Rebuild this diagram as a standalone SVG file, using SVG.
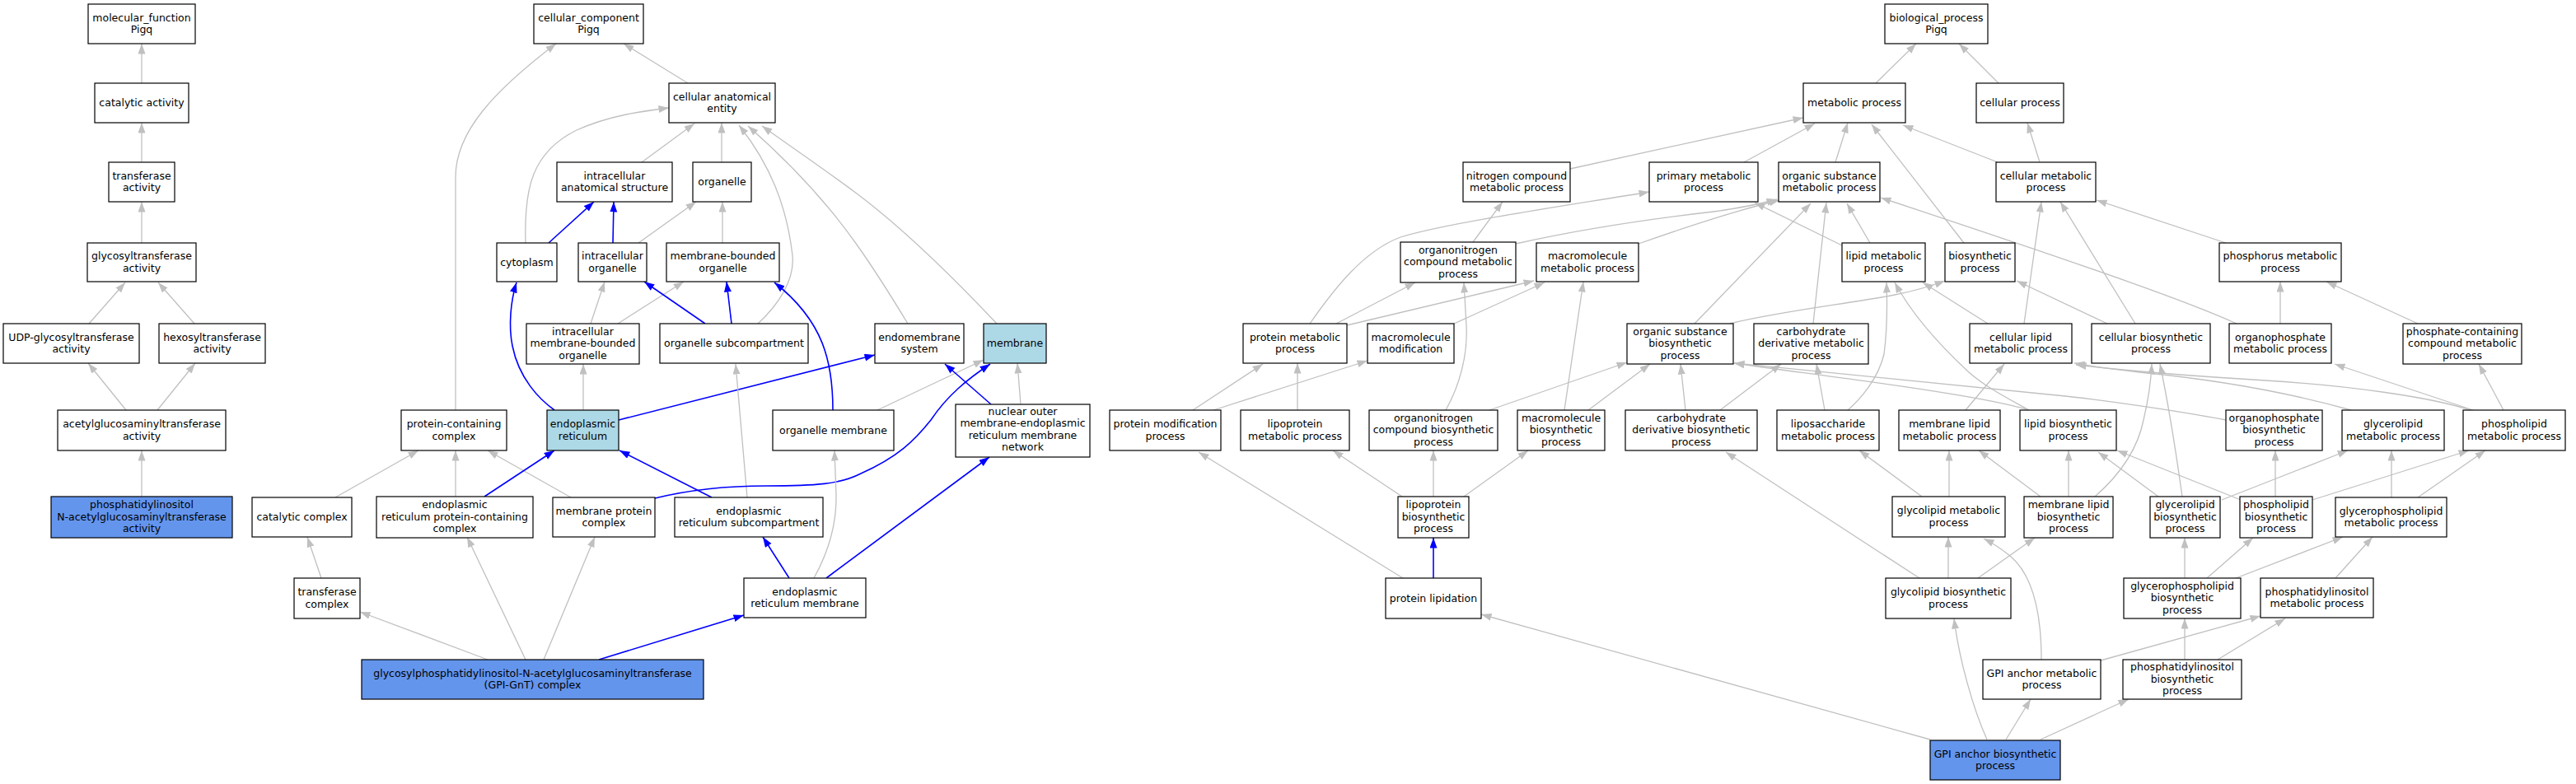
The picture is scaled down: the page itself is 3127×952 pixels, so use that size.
<svg xmlns="http://www.w3.org/2000/svg" width="3127" height="952" viewBox="0 0 3127 952">
<style>
.n rect{fill:#fff;stroke:#000;stroke-width:1.2}
.n.q rect{fill:#6495ed}
.n.h rect{fill:#add8e6}
.n text{font-family:"DejaVu Sans","Liberation Sans",sans-serif;font-size:12.5px;text-anchor:middle;fill:#000}
.g{fill:none;stroke:#c0c0c0;stroke-width:1.3;marker-end:url(#ag)}
.b{fill:none;stroke:#0000ff;stroke-width:1.6;marker-end:url(#ab)}
</style>
<defs>
<marker id="ag" markerWidth="13" markerHeight="10" refX="12.5" refY="4.5" orient="auto" markerUnits="userSpaceOnUse"><path d="M0,0 L12.5,4.5 L0,9 z" fill="#c0c0c0"/></marker>
<marker id="ab" markerWidth="13" markerHeight="10" refX="12.5" refY="4.5" orient="auto" markerUnits="userSpaceOnUse"><path d="M0,0 L12.5,4.5 L0,9 z" fill="#0000ff"/></marker>
</defs>
<rect width="3127" height="952" fill="#fff"/>
<g id="connectors">
<path class="g" d="M172,101 L172,53"/>
<path class="g" d="M172,197 L172,149"/>
<path class="g" d="M172,295 L172,245"/>
<path class="g" d="M108,393 L152,343"/>
<path class="g" d="M236,393 L192,343"/>
<path class="g" d="M153,498 L107,441"/>
<path class="g" d="M191,498 L237,441"/>
<path class="g" d="M172,603 L172,547"/>
<path class="g" d="M835,101 L757,53"/>
<path class="g" d="M553,498 L553,215 C553,160 600,110 675,53"/>
<path class="g" d="M779,197 L843,150"/>
<path class="g" d="M876,197 L876,149"/>
<path class="g" d="M638,295 C636,230 645,185 700,158 C740,140 780,135 812,131"/>
<path class="g" d="M775,295 L845,245"/>
<path class="b" d="M744,295 L745,245"/>
<path class="b" d="M666,295 L721,245"/>
<path class="g" d="M877,295 L877,245"/>
<path class="g" d="M920,393 C945,370 965,340 962,310 C955,250 935,200 897,152"/>
<path class="g" d="M717,393 L734,342"/>
<path class="g" d="M750,393 L830,342"/>
<path class="b" d="M856,393 L782,342"/>
<path class="b" d="M888,393 L882,342"/>
<path class="b" d="M1011,498 C1011,440 1000,390 940,343"/>
<path class="g" d="M1102,393 C1085,365 1060,325 1040,297 C1000,240 950,190 908,153"/>
<path class="g" d="M1210,393 C1160,340 1100,280 1040,235 C1000,205 960,178 925,153"/>
<path class="b" d="M673,498 C655,485 630,460 622,420 C617,395 620,365 627,343"/>
<path class="g" d="M708,498 L708,442"/>
<path class="b" d="M751,510 L1062,431"/>
<path class="g" d="M907,604 L893,442"/>
<path class="b" d="M864,604 L752,547"/>
<path class="g" d="M693,604 L592,547"/>
<path class="b" d="M795,605 C840,594 880,590 930,590 C990,590 1020,588 1045,575 C1090,555 1110,535 1130,510 C1150,480 1175,460 1202,442"/>
<path class="g" d="M553,603 L553,547"/>
<path class="b" d="M588,603 L673,547"/>
<path class="g" d="M1065,498 L1194,437"/>
<path class="b" d="M1203,491 L1147,442"/>
<path class="g" d="M1239,491 L1235,441"/>
<path class="g" d="M988,702 C1003,675 1016,640 1015,600 L1013,547"/>
<path class="b" d="M958,702 L926,652"/>
<path class="b" d="M1003,702 L1201,555"/>
<path class="g" d="M407,604 L508,547"/>
<path class="g" d="M390,702 L373,652"/>
<path class="g" d="M592,801 L437,743"/>
<path class="g" d="M638,801 L567,652"/>
<path class="g" d="M660,801 L722,652"/>
<path class="b" d="M727,801 L903,747"/>
<path class="g" d="M2277,101 L2326,53"/>
<path class="g" d="M2426,101 L2378,53"/>
<path class="g" d="M1906,205 L2189,143"/>
<path class="g" d="M2117,197 L2203,150"/>
<path class="g" d="M2228,197 L2243,149"/>
<path class="g" d="M2384,295 L2272,151"/>
<path class="g" d="M2425,197 L2310,152"/>
<path class="g" d="M2476,197 L2461,149"/>
<path class="g" d="M1788,294 L1824,245"/>
<path class="g" d="M1840,296 C1920,278 2010,265 2080,257 C2110,253 2135,248 2157,242"/>
<path class="g" d="M1989,296 C2040,278 2110,255 2160,243"/>
<path class="g" d="M2236,298 L2130,246"/>
<path class="g" d="M2270,295 L2242,247"/>
<path class="g" d="M1590,393 C1620,350 1655,305 1700,288 C1760,270 1900,250 2002,233"/>
<path class="g" d="M1622,393 L1718,343"/>
<path class="g" d="M1635,395 L1862,341"/>
<path class="g" d="M1765,393 L1875,343"/>
<path class="g" d="M1448,498 L1533,442"/>
<path class="g" d="M1473,498 L1660,438"/>
<path class="g" d="M1575,498 L1575,441"/>
<path class="g" d="M1703,702 L1455,549"/>
<path class="b" d="M1740,702 L1740,653"/>
<path class="g" d="M1702,603 L1618,547"/>
<path class="g" d="M1740,603 L1740,547"/>
<path class="g" d="M1777,603 L1855,547"/>
<path class="g" d="M2343,898 L1798,746"/>
<path class="g" d="M1755,498 C1772,468 1782,430 1780,395 C1779,375 1778,360 1777,343"/>
<path class="g" d="M1808,498 L1975,440"/>
<path class="g" d="M1899,498 L1922,342"/>
<path class="g" d="M1928,498 L2003,442"/>
<path class="g" d="M2046,498 L2040,442"/>
<path class="g" d="M2088,498 L2162,442"/>
<path class="g" d="M2057,393 L2198,247"/>
<path class="g" d="M2100,393 C2160,378 2250,368 2300,358 C2330,352 2345,347 2361,341"/>
<path class="g" d="M2201,393 L2217,246"/>
<path class="g" d="M2413,393 L2334,343"/>
<path class="g" d="M2457,393 L2478,245"/>
<path class="g" d="M2558,393 L2448,341"/>
<path class="g" d="M2592,393 L2501,245"/>
<path class="g" d="M2702,295 L2545,243"/>
<path class="g" d="M2715,393 C2660,368 2560,332 2283,240"/>
<path class="g" d="M2768,393 L2768,342"/>
<path class="g" d="M2935,393 L2824,342"/>
<path class="g" d="M2463,498 C2440,485 2410,470 2390,452 C2350,415 2320,380 2300,343"/>
<path class="g" d="M2463,498 C2400,478 2200,455 2105,441"/>
<path class="g" d="M2702,510 C2650,500 2550,485 2497,480 C2400,470 2250,455 2105,441"/>
<path class="g" d="M2215,498 L2205,442"/>
<path class="g" d="M2243,498 C2258,485 2280,460 2287,430 C2291,400 2291,370 2290,343"/>
<path class="g" d="M2386,498 L2433,442"/>
<path class="g" d="M2333,603 L2257,547"/>
<path class="g" d="M2366,603 L2366,547"/>
<path class="g" d="M2477,603 L2402,547"/>
<path class="g" d="M2511,603 L2511,547"/>
<path class="g" d="M2543,603 C2575,575 2595,545 2602,510 C2608,485 2611,465 2612,442"/>
<path class="g" d="M2620,603 L2547,549"/>
<path class="g" d="M2649,603 C2643,560 2632,490 2622,442"/>
<path class="g" d="M2697,607 L2850,547"/>
<path class="g" d="M2720,607 L2570,547"/>
<path class="g" d="M2762,603 L2762,547"/>
<path class="g" d="M2807,607 L2997,547"/>
<path class="g" d="M2903,604 L2903,547"/>
<path class="g" d="M2935,604 L3017,547"/>
<path class="g" d="M2854,498 C2790,480 2700,462 2597,452 C2560,448 2540,445 2518,441"/>
<path class="g" d="M2999,498 C2950,482 2850,468 2750,462 C2650,456 2580,450 2520,443"/>
<path class="g" d="M3002,498 L2834,442"/>
<path class="g" d="M3039,498 L3009,442"/>
<path class="g" d="M2652,702 L2652,653"/>
<path class="g" d="M2679,702 L2735,653"/>
<path class="g" d="M2714,702 L2844,652"/>
<path class="g" d="M2835,702 L2880,652"/>
<path class="g" d="M2652,801 L2652,751"/>
<path class="g" d="M2692,801 L2774,751"/>
<path class="g" d="M2550,802 L2744,748"/>
<path class="g" d="M2478,801 C2478,750 2470,700 2440,675 C2430,667 2420,660 2408,654"/>
<path class="g" d="M2330,702 L2095,549"/>
<path class="g" d="M2365,702 L2365,652"/>
<path class="g" d="M2401,702 L2470,653"/>
<path class="g" d="M2412,898 C2395,860 2378,800 2372,751"/>
<path class="g" d="M2435,898 L2465,849"/>
<path class="g" d="M2477,898 L2584,849"/>
</g>
<g id="n_mf" class="n"><rect x="107" y="5" width="130" height="48"/><text><tspan x="172" y="25.5">molecular_function</tspan><tspan x="172" y="40">Pigq</tspan></text></g>
<g id="n_cat" class="n"><rect x="115" y="101" width="114" height="48"/><text x="172" y="129">catalytic activity</text></g>
<g id="n_tra" class="n"><rect x="132" y="197" width="80" height="48"/><text><tspan x="172" y="217.5">transferase</tspan><tspan x="172" y="232">activity</tspan></text></g>
<g id="n_gly" class="n"><rect x="106" y="295" width="132" height="47"/><text><tspan x="172" y="315">glycosyltransferase</tspan><tspan x="172" y="329.5">activity</tspan></text></g>
<g id="n_udp" class="n"><rect x="4" y="393" width="165" height="48"/><text><tspan x="86.5" y="413.5">UDP-glycosyltransferase</tspan><tspan x="86.5" y="428">activity</tspan></text></g>
<g id="n_hex" class="n"><rect x="193" y="393" width="129" height="48"/><text><tspan x="257.5" y="413.5">hexosyltransferase</tspan><tspan x="257.5" y="428">activity</tspan></text></g>
<g id="n_acg" class="n"><rect x="70" y="498" width="204" height="49"/><text><tspan x="172" y="519">acetylglucosaminyltransferase</tspan><tspan x="172" y="533.5">activity</tspan></text></g>
<g id="n_pig" class="n q"><rect x="62" y="603" width="220" height="50"/><text><tspan x="172" y="617">phosphatidylinositol</tspan><tspan x="172" y="631.5">N-acetylglucosaminyltransferase</tspan><tspan x="172" y="646">activity</tspan></text></g>
<g id="n_cc" class="n"><rect x="648" y="5" width="133" height="48"/><text><tspan x="714.5" y="25.5">cellular_component</tspan><tspan x="714.5" y="40">Pigq</tspan></text></g>
<g id="n_cae" class="n"><rect x="812" y="101" width="129" height="48"/><text><tspan x="876.5" y="121.5">cellular anatomical</tspan><tspan x="876.5" y="136">entity</tspan></text></g>
<g id="n_ias" class="n"><rect x="676" y="197" width="140" height="48"/><text><tspan x="746" y="217.5">intracellular</tspan><tspan x="746" y="232">anatomical structure</tspan></text></g>
<g id="n_org" class="n"><rect x="841" y="197" width="71" height="48"/><text x="876.5" y="225">organelle</text></g>
<g id="n_cyt" class="n"><rect x="603" y="295" width="73" height="47"/><text x="639.5" y="322.5">cytoplasm</text></g>
<g id="n_io" class="n"><rect x="702" y="295" width="83" height="47"/><text><tspan x="743.5" y="315">intracellular</tspan><tspan x="743.5" y="329.5">organelle</tspan></text></g>
<g id="n_mbo" class="n"><rect x="809" y="295" width="137" height="47"/><text><tspan x="877.5" y="315">membrane-bounded</tspan><tspan x="877.5" y="329.5">organelle</tspan></text></g>
<g id="n_imbo" class="n"><rect x="639" y="393" width="137" height="49"/><text><tspan x="707.5" y="406.5">intracellular</tspan><tspan x="707.5" y="421">membrane-bounded</tspan><tspan x="707.5" y="435.5">organelle</tspan></text></g>
<g id="n_os" class="n"><rect x="801" y="393" width="180" height="48"/><text x="891" y="421">organelle subcompartment</text></g>
<g id="n_em" class="n"><rect x="1062" y="393" width="108" height="48"/><text><tspan x="1116" y="413.5">endomembrane</tspan><tspan x="1116" y="428">system</tspan></text></g>
<g id="n_mem" class="n h"><rect x="1194" y="393" width="76" height="48"/><text x="1232" y="421">membrane</text></g>
<g id="n_pcc" class="n"><rect x="487" y="498" width="128" height="49"/><text><tspan x="551" y="519">protein-containing</tspan><tspan x="551" y="533.5">complex</tspan></text></g>
<g id="n_er" class="n h"><rect x="664" y="498" width="87" height="49"/><text><tspan x="707.5" y="519">endoplasmic</tspan><tspan x="707.5" y="533.5">reticulum</tspan></text></g>
<g id="n_om" class="n"><rect x="938" y="498" width="147" height="49"/><text x="1011.5" y="526.5">organelle membrane</text></g>
<g id="n_nuc" class="n"><rect x="1160" y="491" width="163" height="64"/><text><tspan x="1241.5" y="503.5">nuclear outer</tspan><tspan x="1241.5" y="518">membrane-endoplasmic</tspan><tspan x="1241.5" y="532.5">reticulum membrane</tspan><tspan x="1241.5" y="547">network</tspan></text></g>
<g id="n_catc" class="n"><rect x="306" y="604" width="121" height="48"/><text x="366.5" y="632">catalytic complex</text></g>
<g id="n_erpcc" class="n"><rect x="457" y="603" width="190" height="50"/><text><tspan x="552" y="617">endoplasmic</tspan><tspan x="552" y="631.5">reticulum protein-containing</tspan><tspan x="552" y="646">complex</tspan></text></g>
<g id="n_mpc" class="n"><rect x="671" y="604" width="124" height="48"/><text><tspan x="733" y="624.5">membrane protein</tspan><tspan x="733" y="639">complex</tspan></text></g>
<g id="n_ers" class="n"><rect x="819" y="604" width="180" height="48"/><text><tspan x="909" y="624.5">endoplasmic</tspan><tspan x="909" y="639">reticulum subcompartment</tspan></text></g>
<g id="n_trc" class="n"><rect x="357" y="702" width="80" height="49"/><text><tspan x="397" y="723">transferase</tspan><tspan x="397" y="737.5">complex</tspan></text></g>
<g id="n_erm" class="n"><rect x="903" y="702" width="148" height="48"/><text><tspan x="977" y="722.5">endoplasmic</tspan><tspan x="977" y="737">reticulum membrane</tspan></text></g>
<g id="n_gnt" class="n q"><rect x="439" y="801" width="415" height="48"/><text><tspan x="646.5" y="821.5">glycosylphosphatidylinositol-N-acetylglucosaminyltransferase</tspan><tspan x="646.5" y="836">(GPI-GnT) complex</tspan></text></g>
<g id="n_bp" class="n"><rect x="2288" y="5" width="125" height="48"/><text><tspan x="2350.5" y="25.5">biological_process</tspan><tspan x="2350.5" y="40">Pigq</tspan></text></g>
<g id="n_met" class="n"><rect x="2189" y="101" width="124" height="48"/><text x="2251" y="129">metabolic process</text></g>
<g id="n_cp" class="n"><rect x="2399" y="101" width="106" height="48"/><text x="2452" y="129">cellular process</text></g>
<g id="n_ncm" class="n"><rect x="1776" y="197" width="130" height="48"/><text><tspan x="1841" y="217.5">nitrogen compound</tspan><tspan x="1841" y="232">metabolic process</tspan></text></g>
<g id="n_pm" class="n"><rect x="2002" y="197" width="132" height="48"/><text><tspan x="2068" y="217.5">primary metabolic</tspan><tspan x="2068" y="232">process</tspan></text></g>
<g id="n_osm" class="n"><rect x="2159" y="197" width="123" height="48"/><text><tspan x="2220.5" y="217.5">organic substance</tspan><tspan x="2220.5" y="232">metabolic process</tspan></text></g>
<g id="n_cm" class="n"><rect x="2423" y="197" width="121" height="48"/><text><tspan x="2483.5" y="217.5">cellular metabolic</tspan><tspan x="2483.5" y="232">process</tspan></text></g>
<g id="n_oncm" class="n"><rect x="1700" y="294" width="140" height="49"/><text><tspan x="1770" y="307.5">organonitrogen</tspan><tspan x="1770" y="322">compound metabolic</tspan><tspan x="1770" y="336.5">process</tspan></text></g>
<g id="n_mmp" class="n"><rect x="1865" y="295" width="124" height="47"/><text><tspan x="1927" y="315">macromolecule</tspan><tspan x="1927" y="329.5">metabolic process</tspan></text></g>
<g id="n_lmp" class="n"><rect x="2236" y="295" width="101" height="47"/><text><tspan x="2286.5" y="315">lipid metabolic</tspan><tspan x="2286.5" y="329.5">process</tspan></text></g>
<g id="n_bsp" class="n"><rect x="2361" y="295" width="85" height="47"/><text><tspan x="2403.5" y="315">biosynthetic</tspan><tspan x="2403.5" y="329.5">process</tspan></text></g>
<g id="n_phm" class="n"><rect x="2694" y="295" width="148" height="47"/><text><tspan x="2768" y="315">phosphorus metabolic</tspan><tspan x="2768" y="329.5">process</tspan></text></g>
<g id="n_prm" class="n"><rect x="1509" y="393" width="126" height="48"/><text><tspan x="1572" y="413.5">protein metabolic</tspan><tspan x="1572" y="428">process</tspan></text></g>
<g id="n_mmod" class="n"><rect x="1660" y="393" width="105" height="48"/><text><tspan x="1712.5" y="413.5">macromolecule</tspan><tspan x="1712.5" y="428">modification</tspan></text></g>
<g id="n_osb" class="n"><rect x="1975" y="393" width="129" height="49"/><text><tspan x="2039.5" y="406.5">organic substance</tspan><tspan x="2039.5" y="421">biosynthetic</tspan><tspan x="2039.5" y="435.5">process</tspan></text></g>
<g id="n_cdm" class="n"><rect x="2129" y="393" width="139" height="49"/><text><tspan x="2198.5" y="406.5">carbohydrate</tspan><tspan x="2198.5" y="421">derivative metabolic</tspan><tspan x="2198.5" y="435.5">process</tspan></text></g>
<g id="n_clm" class="n"><rect x="2391" y="393" width="124" height="48"/><text><tspan x="2453" y="413.5">cellular lipid</tspan><tspan x="2453" y="428">metabolic process</tspan></text></g>
<g id="n_cbp" class="n"><rect x="2539" y="393" width="144" height="48"/><text><tspan x="2611" y="413.5">cellular biosynthetic</tspan><tspan x="2611" y="428">process</tspan></text></g>
<g id="n_opm" class="n"><rect x="2706" y="393" width="124" height="48"/><text><tspan x="2768" y="413.5">organophosphate</tspan><tspan x="2768" y="428">metabolic process</tspan></text></g>
<g id="n_pcm" class="n"><rect x="2917" y="393" width="144" height="49"/><text><tspan x="2989" y="406.5">phosphate-containing</tspan><tspan x="2989" y="421">compound metabolic</tspan><tspan x="2989" y="435.5">process</tspan></text></g>
<g id="n_pmod" class="n"><rect x="1347" y="498" width="135" height="49"/><text><tspan x="1414.5" y="519">protein modification</tspan><tspan x="1414.5" y="533.5">process</tspan></text></g>
<g id="n_lpm" class="n"><rect x="1506" y="498" width="132" height="49"/><text><tspan x="1572" y="519">lipoprotein</tspan><tspan x="1572" y="533.5">metabolic process</tspan></text></g>
<g id="n_oncb" class="n"><rect x="1662" y="498" width="156" height="49"/><text><tspan x="1740" y="511.5">organonitrogen</tspan><tspan x="1740" y="526">compound biosynthetic</tspan><tspan x="1740" y="540.5">process</tspan></text></g>
<g id="n_mmb" class="n"><rect x="1842" y="498" width="106" height="49"/><text><tspan x="1895" y="511.5">macromolecule</tspan><tspan x="1895" y="526">biosynthetic</tspan><tspan x="1895" y="540.5">process</tspan></text></g>
<g id="n_cdb" class="n"><rect x="1973" y="498" width="160" height="49"/><text><tspan x="2053" y="511.5">carbohydrate</tspan><tspan x="2053" y="526">derivative biosynthetic</tspan><tspan x="2053" y="540.5">process</tspan></text></g>
<g id="n_lsm" class="n"><rect x="2157" y="498" width="124" height="49"/><text><tspan x="2219" y="519">liposaccharide</tspan><tspan x="2219" y="533.5">metabolic process</tspan></text></g>
<g id="n_mlm" class="n"><rect x="2305" y="498" width="123" height="49"/><text><tspan x="2366.5" y="519">membrane lipid</tspan><tspan x="2366.5" y="533.5">metabolic process</tspan></text></g>
<g id="n_lbp" class="n"><rect x="2452" y="498" width="117" height="49"/><text><tspan x="2510.5" y="519">lipid biosynthetic</tspan><tspan x="2510.5" y="533.5">process</tspan></text></g>
<g id="n_opb" class="n"><rect x="2702" y="498" width="117" height="49"/><text><tspan x="2760.5" y="511.5">organophosphate</tspan><tspan x="2760.5" y="526">biosynthetic</tspan><tspan x="2760.5" y="540.5">process</tspan></text></g>
<g id="n_glm" class="n"><rect x="2843" y="498" width="124" height="49"/><text><tspan x="2905" y="519">glycerolipid</tspan><tspan x="2905" y="533.5">metabolic process</tspan></text></g>
<g id="n_plm" class="n"><rect x="2990" y="498" width="124" height="49"/><text><tspan x="3052" y="519">phospholipid</tspan><tspan x="3052" y="533.5">metabolic process</tspan></text></g>
<g id="n_lpb" class="n"><rect x="1697" y="603" width="86" height="50"/><text><tspan x="1740" y="617">lipoprotein</tspan><tspan x="1740" y="631.5">biosynthetic</tspan><tspan x="1740" y="646">process</tspan></text></g>
<g id="n_glpm" class="n"><rect x="2297" y="603" width="137" height="49"/><text><tspan x="2365.5" y="624">glycolipid metabolic</tspan><tspan x="2365.5" y="638.5">process</tspan></text></g>
<g id="n_mlb" class="n"><rect x="2457" y="603" width="108" height="50"/><text><tspan x="2511" y="617">membrane lipid</tspan><tspan x="2511" y="631.5">biosynthetic</tspan><tspan x="2511" y="646">process</tspan></text></g>
<g id="n_glb" class="n"><rect x="2610" y="603" width="85" height="50"/><text><tspan x="2652.5" y="617">glycerolipid</tspan><tspan x="2652.5" y="631.5">biosynthetic</tspan><tspan x="2652.5" y="646">process</tspan></text></g>
<g id="n_plb" class="n"><rect x="2719" y="603" width="88" height="50"/><text><tspan x="2763" y="617">phospholipid</tspan><tspan x="2763" y="631.5">biosynthetic</tspan><tspan x="2763" y="646">process</tspan></text></g>
<g id="n_gpm" class="n"><rect x="2835" y="604" width="135" height="48"/><text><tspan x="2902.5" y="624.5">glycerophospholipid</tspan><tspan x="2902.5" y="639">metabolic process</tspan></text></g>
<g id="n_plip" class="n"><rect x="1682" y="702" width="116" height="49"/><text x="1740" y="730.5">protein lipidation</text></g>
<g id="n_glpb" class="n"><rect x="2289" y="702" width="152" height="49"/><text><tspan x="2365" y="723">glycolipid biosynthetic</tspan><tspan x="2365" y="737.5">process</tspan></text></g>
<g id="n_gpb" class="n"><rect x="2578" y="702" width="142" height="49"/><text><tspan x="2649" y="715.5">glycerophospholipid</tspan><tspan x="2649" y="730">biosynthetic</tspan><tspan x="2649" y="744.5">process</tspan></text></g>
<g id="n_pim" class="n"><rect x="2744" y="702" width="137" height="48"/><text><tspan x="2812.5" y="722.5">phosphatidylinositol</tspan><tspan x="2812.5" y="737">metabolic process</tspan></text></g>
<g id="n_gpim" class="n"><rect x="2407" y="801" width="143" height="48"/><text><tspan x="2478.5" y="821.5">GPI anchor metabolic</tspan><tspan x="2478.5" y="836">process</tspan></text></g>
<g id="n_pib" class="n"><rect x="2577" y="801" width="144" height="48"/><text><tspan x="2649" y="814">phosphatidylinositol</tspan><tspan x="2649" y="828.5">biosynthetic</tspan><tspan x="2649" y="843">process</tspan></text></g>
<g id="n_gpib" class="n q"><rect x="2343" y="899" width="158" height="48"/><text><tspan x="2422" y="919.5">GPI anchor biosynthetic</tspan><tspan x="2422" y="934">process</tspan></text></g>
</svg>
